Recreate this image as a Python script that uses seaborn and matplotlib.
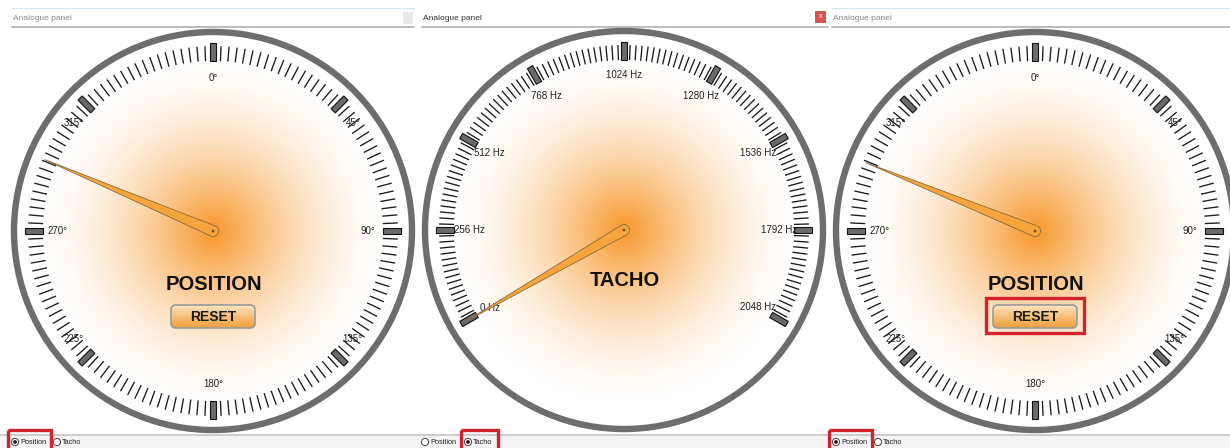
import numpy as np
import pandas as pd
import seaborn as sns
import matplotlib.pyplot as plt
from matplotlib.patches import Circle, Polygon, FancyBboxPatch, Rectangle
from matplotlib.collections import LineCollection

sns.set_theme(style="white")
plt.rcParams['font.family'] = ['Liberation Sans', 'DejaVu Sans']

# Data
panel_modes = ["Position", "Tacho", "Position"]
panel_captions = ["POSITION", "TACHO", "POSITION"]
pos_labels = ["0°", "45°", "90°", "135°", "180°", "225°", "270°", "315°"]
pos_values = [0, 45, 90, 135, 180, 225, 270, 315]
tacho_labels = ["0 Hz", "256 Hz", "512 Hz", "768 Hz", "1024 Hz",
                "1280 Hz", "1536 Hz", "1792 Hz", "2048 Hz"]
tacho_values = [0, 256, 512, 768, 1024, 1280, 1536, 1792, 2048]
needle_values = [293, 0, 292]   # degrees, Hz, degrees
reset_highlight = [False, False, True]

# Layout (pixels)
W, H = 1230, 448
centers = [(213, 231), (624, 230), (1035, 231)]
title_x = [(12, 414), (422, 828), (832, 1230)]
radio_x = [(15, 57), (425, 468), (836, 878)]

ORANGE = np.array([247, 150, 40]) / 255
RING = "#6d6d6d"
RED = "#d2232a"


def tacho_angle(v):
    return 240 + v / 2048 * 240


def polar(c, r, ang):
    t = np.deg2rad(ang)
    return c[0] + r * np.sin(t), c[1] - r * np.cos(t)


fig = plt.figure(figsize=(W / 100, H / 100), dpi=100)
ax = fig.add_axes([0, 0, 1, 1])

for i, c in enumerate(centers):
    mode = panel_modes[i]

    # radial orange glow
    yy, xx = np.mgrid[-200:200, -200:200]
    rr = np.hypot(xx, yy)
    alpha = np.clip(1 - rr / 178, 0, 1) ** 1.7
    img = np.zeros((400, 400, 4))
    img[..., :3] = ORANGE
    img[..., 3] = alpha
    im = ax.imshow(img, extent=(c[0] - 200, c[0] + 200, c[1] + 200, c[1] - 200),
                   interpolation="bilinear", zorder=1)
    clip = Circle(c, 193, transform=ax.transData)
    im.set_clip_path(clip)

    # outer ring
    ax.add_patch(Circle(c, 199, fill=False, ec=RING, lw=4.6, zorder=3))

    # scale
    if mode == "Position":
        major = list(pos_values)
        minor = [a for a in np.arange(0, 360, 2.5) if a % 45 != 0]
        labels = pos_labels
    else:
        major = [tacho_angle(v) for v in tacho_values]
        minor = [a for a in np.arange(240, 480.01, 30 / 16) if (a - 240) % 30 > 1e-6]
        labels = tacho_labels

    segs = []
    for a in minor:
        segs.append([polar(c, 170, a), polar(c, 185, a)])
    ax.add_collection(LineCollection(segs, colors="#1a1a1a", linewidths=0.95, zorder=4))

    for a in major:
        t = np.deg2rad(a)
        u = np.array([np.sin(t), -np.cos(t)])
        v = np.array([np.cos(t), np.sin(t)])
        cc = np.array(c)
        pts = [cc + 170 * u + 3 * v, cc + 188 * u + 3 * v,
               cc + 188 * u - 3 * v, cc + 170 * u - 3 * v]
        ax.add_patch(Polygon(pts, closed=True, fc="#6a6a6a", ec="#111111", lw=0.8, zorder=5))

    for a, lab in zip(major, labels):
        t = np.deg2rad(a)
        if mode == "Position":
            s = np.sin(t)
            lx = c[0] + 155 * np.sign(s) * abs(s) ** 0.3
            ly = c[1] - 153 * np.cos(t)
        else:
            lx, ly = polar(c, 155, a)
        ax.text(lx, ly, lab, ha="center", va="center", fontsize=7, color="#222222", zorder=6)

    # caption and reset button
    cap_y = 285 if mode == "Position" else 281
    ax.text(c[0] + 1, cap_y, panel_captions[i], ha="center", va="center",
            fontsize=14.5, fontweight="bold", color="#111111", zorder=6)

    if mode == "Position":
        bx0, bx1, by0, by1 = c[0] - 42, c[0] + 42, 305, 328
        btn = FancyBboxPatch((bx0, by0), bx1 - bx0, by1 - by0,
                             boxstyle="round,pad=0,rounding_size=5",
                             fc="none", ec="#9a9a9a", lw=1.2, zorder=8)
        grad = np.linspace(0, 1, 50)[:, None]
        top = np.array([252, 235, 205]) / 255
        bot = np.array([240, 160, 60]) / 255
        gimg = np.zeros((50, 2, 3))
        for k in range(3):
            gimg[..., k] = top[k] + (bot[k] - top[k]) * grad ** 0.8
        gi = ax.imshow(gimg, extent=(bx0, bx1, by1, by0), aspect="auto", zorder=7)
        fill = FancyBboxPatch((bx0, by0), bx1 - bx0, by1 - by0,
                              boxstyle="round,pad=0,rounding_size=5", transform=ax.transData)
        gi.set_clip_path(fill)
        ax.add_patch(btn)
        ax.text(c[0], 317, "RESET", ha="center", va="center", fontsize=10,
                fontweight="bold", color="#1a1a1a", zorder=9)
        if reset_highlight[i]:
            ax.add_patch(Rectangle((bx0 - 7, by0 - 7), bx1 - bx0 + 14, by1 - by0 + 12,
                                   fill=False, ec=RED, lw=2.4, zorder=9))

    # needle
    if mode == "Position":
        ang = needle_values[i]
    else:
        ang = tacho_angle(needle_values[i])
    t = np.deg2rad(ang)
    u = np.array([np.sin(t), -np.cos(t)])
    v = np.array([np.cos(t), np.sin(t)])
    cc = np.array(c)
    pts = [cc + 183 * u]
    for th in np.linspace(0, np.pi, 20):
        pts.append(cc + 5.5 * (np.cos(th) * v - np.sin(th) * u))
    ax.add_patch(Polygon(pts, closed=True, fc="#f6a53c", ec="#8c6a3c", lw=0.6, zorder=10))

    # title bar
    x0, x1 = title_x[i]
    title_col = "#333333" if i == 1 else "#8a8a8a"
    ax.text(x0 + 1, 18, "Analogue panel", ha="left", va="center", fontsize=6, color=title_col)
    ax.plot([x0, x1], [27, 27], color="#b5b5b5", lw=1.3)
    if i != 1:
        ax.plot([x0, x1], [8, 8], color="#d3e6f0", lw=0.8)
    if i == 0:
        ax.add_patch(Rectangle((403, 12), 10, 12, fc="#e8e8e8", ec="none"))
    if i == 1:
        ax.add_patch(Rectangle((815, 11), 11, 12, fc="#d9534f", ec="none", zorder=6))
        ax.text(820.5, 17, "x", ha="center", va="center", fontsize=5, color="white", zorder=7)

# hubs
hubs = pd.DataFrame({"x": [p[0] for p in centers], "y": [p[1] for p in centers]})
sns.scatterplot(data=hubs, x="x", y="y", s=4, color="#7a4a10", edgecolor="none", ax=ax, zorder=11)

# bottom strip with radio buttons
ax.add_patch(Rectangle((0, 435), W, 13, fc="#f4f4f4", ec="none", zorder=12))
ax.plot([0, W], [435, 435], color="#c4c4c4", lw=1.2, zorder=13)
for i, (rp, rt) in enumerate(radio_x):
    for rx, name in [(rp, "Position"), (rt, "Tacho")]:
        ax.add_patch(Circle((rx, 442), 3.6, fc="white", ec="#444444", lw=0.7, zorder=14))
        if name == panel_modes[i]:
            ax.add_patch(Circle((rx, 442), 1.9, fc="#222222", ec="none", zorder=15))
            ax.add_patch(Rectangle((rx - 7, 430), 43 if name == "Position" else 37, 20,
                                   fill=False, ec=RED, lw=2.4, zorder=16))
        ax.text(rx + 5, 442, name, ha="left", va="center", fontsize=5.3, color="#222222", zorder=15)

ax.set_xlim(0, W)
ax.set_ylim(H, 0)
ax.set_aspect("auto")
ax.axis("off")
ax.legend_ = None
fig.savefig("out.png", dpi=100)
